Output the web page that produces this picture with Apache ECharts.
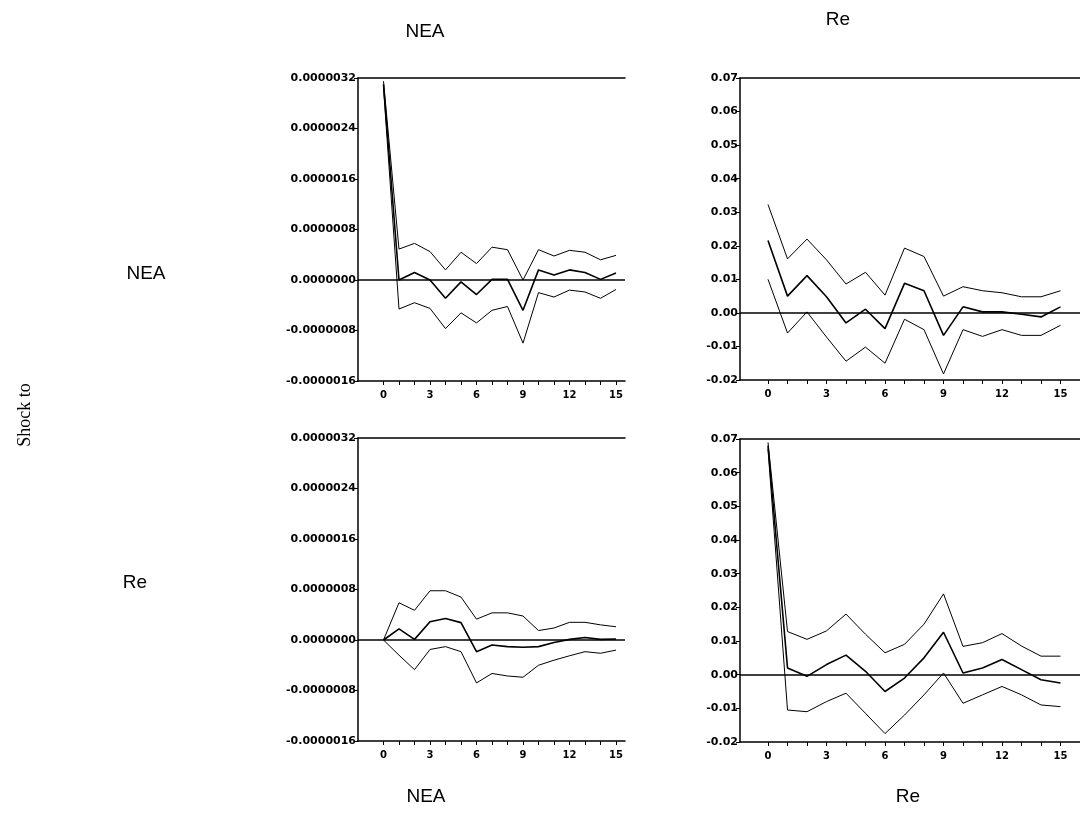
<!DOCTYPE html>
<html>
<head>
<meta charset="utf-8">
<script src="https://cdn.jsdelivr.net/npm/echarts@6/dist/echarts.min.js"></script>
<style>
html,body{margin:0;padding:0;background:#fff;}
#chart{width:1080px;height:819px;}
</style>
</head>
<body>
<div id="chart"></div>
<script>
// periods
var periods = [0,1,2,3,4,5,6,7,8,9,10,11,12,13,14,15];
var xLabelValues = [0,3,6,9,12,15];

// Response of NEA to NEA shock
var neaNeaUp  = [3.15e-6, 0.49e-6, 0.58e-6, 0.45e-6, 0.16e-6, 0.44e-6, 0.26e-6, 0.52e-6, 0.48e-6, 0.00e-6, 0.48e-6, 0.38e-6, 0.47e-6, 0.44e-6, 0.32e-6, 0.39e-6];
var neaNeaMid = [3.10e-6, 0.00e-6, 0.12e-6, 0.00e-6, -0.29e-6, -0.03e-6, -0.23e-6, 0.01e-6, 0.01e-6, -0.48e-6, 0.16e-6, 0.08e-6, 0.16e-6, 0.12e-6, 0.01e-6, 0.11e-6];
var neaNeaLo  = [3.05e-6, -0.46e-6, -0.36e-6, -0.45e-6, -0.77e-6, -0.52e-6, -0.68e-6, -0.48e-6, -0.42e-6, -1.00e-6, -0.20e-6, -0.27e-6, -0.16e-6, -0.19e-6, -0.29e-6, -0.15e-6];

// Response of Re to NEA shock
var reNeaUp  = [0.0323, 0.0161, 0.0220, 0.0158, 0.0086, 0.0121, 0.0053, 0.0193, 0.0168, 0.0050, 0.0078, 0.0066, 0.0060, 0.0048, 0.0048, 0.0066];
var reNeaMid = [0.0216, 0.0050, 0.0111, 0.0048, -0.0030, 0.0011, -0.0047, 0.0088, 0.0066, -0.0067, 0.0018, 0.0003, 0.0003, -0.0004, -0.0012, 0.0018];
var reNeaLo  = [0.0100, -0.0060, 0.0003, -0.0072, -0.0144, -0.0102, -0.0150, -0.0019, -0.0050, -0.0182, -0.0050, -0.0070, -0.0050, -0.0067, -0.0067, -0.0037];

// Response of NEA to Re shock
var neaReUp  = [0, 0.59e-6, 0.47e-6, 0.78e-6, 0.78e-6, 0.68e-6, 0.33e-6, 0.43e-6, 0.43e-6, 0.38e-6, 0.15e-6, 0.19e-6, 0.28e-6, 0.28e-6, 0.24e-6, 0.21e-6];
var neaReMid = [0, 0.175e-6, 0.01e-6, 0.29e-6, 0.34e-6, 0.275e-6, -0.185e-6, -0.08e-6, -0.105e-6, -0.115e-6, -0.105e-6, -0.04e-6, 0.01e-6, 0.04e-6, 0.01e-6, 0.015e-6];
var neaReLo  = [0, -0.24e-6, -0.47e-6, -0.15e-6, -0.105e-6, -0.185e-6, -0.68e-6, -0.53e-6, -0.57e-6, -0.59e-6, -0.40e-6, -0.32e-6, -0.25e-6, -0.185e-6, -0.21e-6, -0.16e-6];

// Response of Re to Re shock
var reReUp  = [0.069, 0.0128, 0.0105, 0.0130, 0.0180, 0.0120, 0.0065, 0.0090, 0.0150, 0.0240, 0.0084, 0.0095, 0.0122, 0.0085, 0.0055, 0.0055];
var reReMid = [0.068, 0.0020, -0.0005, 0.0030, 0.0058, 0.0010, -0.0050, -0.0010, 0.0050, 0.0126, 0.0005, 0.0020, 0.0045, 0.0015, -0.0015, -0.0025];
var reReLo  = [0.067, -0.0105, -0.0110, -0.0080, -0.0055, -0.0115, -0.0175, -0.0120, -0.0060, 0.0005, -0.0085, -0.0060, -0.0035, -0.0060, -0.0090, -0.0095];

var rowLabels = ['NEA', 'Re'];
var colLabels = ['NEA', 'Re'];
var sideTitle = 'Shock to';

var sansFont = "'Liberation Sans Narrow','Liberation Sans',Arial,sans-serif";
var tickFont = "'DejaVu Sans','Liberation Sans',sans-serif";

function zip(a){ return periods.map(function(p,i){ return [p, a[i]]; }); }

var panels = [
  {grid:{left:358, right:455, top:78, height:303}, x:[-1.645, 15.58], y:[-0.0000016, 0.0000032, 0.0000008], dec:7, d:[neaNeaUp, neaNeaMid, neaNeaLo]},
  {grid:{left:740, right:0,   top:78, height:302}, x:[-1.436, 16.0],  y:[-0.02, 0.07, 0.01], dec:2, d:[reNeaUp, reNeaMid, reNeaLo]},
  {grid:{left:358, right:455, top:438, height:303}, x:[-1.645, 15.58], y:[-0.0000016, 0.0000032, 0.0000008], dec:7, d:[neaReUp, neaReMid, neaReLo]},
  {grid:{left:740, right:0,   top:439, height:303}, x:[-1.436, 16.0],  y:[-0.02, 0.07, 0.01], dec:2, d:[reReUp, reReMid, reReLo]}
];

var grids = [], xAxes = [], yAxes = [], series = [];
panels.forEach(function(p, k){
  grids.push(p.grid);
  xAxes.push({
    type:'value', gridIndex:k, min:p.x[0], max:p.x[1], position:'bottom',
    axisLine:{show:true, onZero:false, lineStyle:{color:'#000', width:1.5}},
    axisTick:{show:true, length:4, inside:false, customValues:periods, lineStyle:{color:'#000'}},
    axisLabel:{show:true, customValues:xLabelValues, color:'#000', fontSize:10, fontWeight:'bold', fontFamily:tickFont, margin:9},
    splitLine:{show:false}
  });
  xAxes.push({
    type:'value', gridIndex:k, min:p.x[0], max:p.x[1], position:'top',
    axisLine:{show:true, onZero:false, lineStyle:{color:'#000', width:1.5}},
    axisTick:{show:false}, axisLabel:{show:false}, splitLine:{show:false}
  });
  var dec = p.dec;
  yAxes.push({
    type:'value', gridIndex:k, min:p.y[0], max:p.y[1], interval:p.y[2],
    axisLine:{show:true, onZero:false, lineStyle:{color:'#000', width:1.5}},
    axisTick:{show:true, length:4, inside:false, lineStyle:{color:'#000'}},
    axisLabel:{color:'#000', fontSize:11, fontWeight:'bold', fontFamily:tickFont, margin:2,
      formatter:function(v){ var s = Number(v).toFixed(dec); if (/^-0\.0+$/.test(s)) s = s.slice(1); return s; }},
    splitLine:{show:false}
  });
  var names = ['upper', 'response', 'lower'];
  p.d.forEach(function(arr, j){
    var s = {
      type:'line', name:names[j], xAxisIndex:2*k, yAxisIndex:k,
      data:zip(arr), symbol:'none', silent:true, animation:false,
      lineStyle:{color:'#000', width: j===1 ? 1.6 : 1}
    };
    if (j === 1) {
      s.markLine = {silent:true, symbol:'none', animation:false, label:{show:false},
        lineStyle:{color:'#000', width:1.5, type:'solid'}, data:[{yAxis:0}]};
    }
    series.push(s);
  });
});

var chart = echarts.init(document.getElementById('chart'), null, {renderer:'canvas'});
chart.setOption({
  backgroundColor:'#fff',
  animation:false,
  grid:grids, xAxis:xAxes, yAxis:yAxes, series:series,
  graphic:[
    {type:'text', x:425, y:32, style:{text:colLabels[0], font:"19px "+sansFont, fill:'#000', align:'center', verticalAlign:'middle'}},
    {type:'text', x:838, y:20, style:{text:colLabels[1], font:"19px "+sansFont, fill:'#000', align:'center', verticalAlign:'middle'}},
    {type:'text', x:146, y:274, style:{text:rowLabels[0], font:"19px "+sansFont, fill:'#000', align:'center', verticalAlign:'middle'}},
    {type:'text', x:135, y:583, style:{text:rowLabels[1], font:"19px "+sansFont, fill:'#000', align:'center', verticalAlign:'middle'}},
    {type:'text', x:426, y:797, style:{text:colLabels[0], font:"19px "+sansFont, fill:'#000', align:'center', verticalAlign:'middle'}},
    {type:'text', x:908, y:797, style:{text:colLabels[1], font:"19px "+sansFont, fill:'#000', align:'center', verticalAlign:'middle'}},
    {type:'text', x:25, y:415, rotation:Math.PI/2, style:{text:sideTitle, font:"18px 'Liberation Serif','DejaVu Serif',serif", fill:'#000', align:'center', verticalAlign:'middle'}}
  ]
});
</script>
</body>
</html>
